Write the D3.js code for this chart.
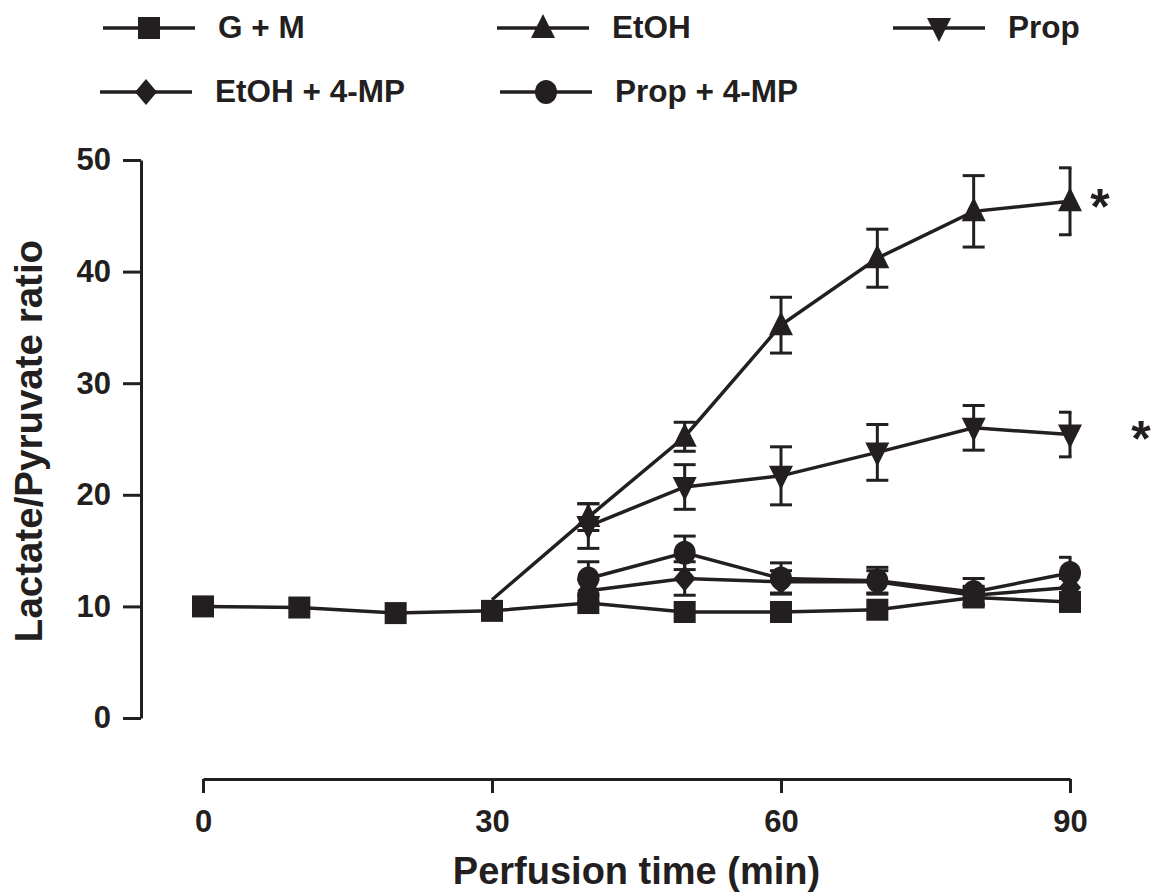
<!DOCTYPE html>
<html>
<head>
<meta charset="utf-8">
<script src="https://cdn.jsdelivr.net/npm/d3@7"></script>
<style>
  html, body { margin: 0; padding: 0; background: #fff; }
  svg { display: block; }
</style>
</head>
<body>
<div id="chart"></div>
<script>
// Perfusion time points (min)
const times = [0, 10, 20, 30, 40, 50, 60, 70, 80, 90];

// Lactate/Pyruvate ratio, mean and error (null = not measured)
const gmValues      = [10.0, 9.9, 9.4, 9.6, 10.3, 9.5, 9.5, 9.7, 10.8, 10.4];
const gmErrors      = [0.3, 0.3, 0.3, 0.3, 0.4, 0.3, 0.3, 0.3, 0.4, 0.4];
const etohValues    = [null, null, null, 10.6, 18.0, 25.2, 35.2, 41.2, 45.4, 46.3];
const etohErrors    = [null, null, null, null, 1.2, 1.3, 2.5, 2.6, 3.2, 3.0];
const propValues    = [null, null, null, null, 17.2, 20.7, 21.7, 23.8, 26.0, 25.4];
const propErrors    = [null, null, null, null, 2.0, 2.0, 2.6, 2.5, 2.0, 2.0];
const etoh4mpValues = [null, null, null, null, 11.4, 12.5, 12.2, 12.2, 11.0, 11.7];
const etoh4mpErrors = [null, null, null, null, 1.0, 1.5, 1.0, 1.0, 0.8, 0.8];
const prop4mpValues = [null, null, null, null, 12.5, 14.8, 12.5, 12.3, 11.3, 13.0];
const prop4mpErrors = [null, null, null, null, 1.5, 1.5, 1.4, 1.2, 1.2, 1.4];

const seriesNames = ['G + M', 'EtOH', 'Prop', 'EtOH + 4-MP', 'Prop + 4-MP'];
const yTicks = [0, 10, 20, 30, 40, 50];
const xTicks = [0, 30, 60, 90];
const significant = [{ series: 'EtOH', t: 90 }, { series: 'Prop', t: 90 }];

const series = [
  { name: 'G + M',       values: gmValues,      errors: gmErrors,      symbol: 'square' },
  { name: 'Prop + 4-MP', values: prop4mpValues, errors: prop4mpErrors, symbol: 'circle' },
  { name: 'EtOH + 4-MP', values: etoh4mpValues, errors: etoh4mpErrors, symbol: 'diamond' },
  { name: 'Prop',        values: propValues,    errors: propErrors,    symbol: 'down' },
  { name: 'EtOH',        values: etohValues,    errors: etohErrors,    symbol: 'up' }
];

const W = 1153, H = 896;
const INK = '#231f20';
const FONT = "'Liberation Sans', Arial, Helvetica, sans-serif";

const svg = d3.select('#chart').append('svg').attr('width', W).attr('height', H);

const x = d3.scaleLinear().domain([0, 90]).range([203, 1070]);
const y = d3.scaleLinear().domain([0, 50]).range([718, 160]);

// marker shapes, centred on 0,0
function marker(sel, symbol) {
  if (symbol === 'square') {
    sel.append('rect').attr('x', -11).attr('y', -11).attr('width', 22).attr('height', 22).attr('fill', INK);
  } else if (symbol === 'circle') {
    sel.append('ellipse').attr('rx', 11).attr('ry', 12).attr('fill', INK);
  } else if (symbol === 'diamond') {
    sel.append('path').attr('d', 'M0,-13L11,0L0,13L-11,0Z').attr('fill', INK);
  } else if (symbol === 'up') {
    sel.append('path').attr('d', 'M0,-14L12,10L-12,10Z').attr('fill', INK);
  } else if (symbol === 'down') {
    sel.append('path').attr('d', 'M0,14L12,-10L-12,-10Z').attr('fill', INK);
  }
}

// Y axis
const yAxis = svg.append('g').attr('transform', 'translate(141,0)')
  .call(d3.axisLeft(y).tickValues(yTicks).tickSize(18).tickSizeOuter(0).tickPadding(12));
yAxis.select('.domain').attr('stroke', INK).attr('stroke-width', 3);
yAxis.selectAll('.tick line').attr('stroke', INK).attr('stroke-width', 3);
yAxis.selectAll('.tick text').attr('fill', INK)
  .attr('font-family', FONT).attr('font-weight', 700).attr('font-size', 31);

// X axis (detached below the plot)
const xAxis = svg.append('g').attr('transform', 'translate(0,779)')
  .call(d3.axisBottom(x).tickValues(xTicks).tickSize(14).tickSizeOuter(0).tickPadding(17));
xAxis.select('.domain').attr('stroke', INK).attr('stroke-width', 3);
xAxis.selectAll('.tick line').attr('stroke', INK).attr('stroke-width', 3);
xAxis.selectAll('.tick text').attr('fill', INK)
  .attr('font-family', FONT).attr('font-weight', 700).attr('font-size', 31).attr('dy', '0.71em');

// axis titles
svg.append('text').attr('x', x(45)).attr('y', 884).attr('text-anchor', 'middle')
  .attr('font-family', FONT).attr('font-weight', 700).attr('font-size', 38).attr('fill', INK)
  .text('Perfusion time (min)');
svg.append('text').attr('transform', 'translate(42,441) rotate(-90)')
  .attr('text-anchor', 'middle')
  .attr('font-family', FONT).attr('font-weight', 700).attr('font-size', 38.5).attr('fill', INK)
  .text('Lactate/Pyruvate ratio');

const plot = svg.append('g');
const errG = plot.append('g');
const capRight = x(90) + 1.5;   // caps at the last time point are cut like "]"

series.forEach(s => {
  const pts = times.map((t, i) => ({ t, v: s.values[i], e: s.errors[i] })).filter(d => d.v != null);
  pts.filter(d => d.e != null && d.e > 0.5).forEach(d => {
    const g = errG.append('g').attr('stroke', INK).attr('stroke-width', 3);
    g.append('line').attr('x1', x(d.t)).attr('x2', x(d.t)).attr('y1', y(d.v - d.e)).attr('y2', y(d.v + d.e));
    [d.v - d.e, d.v + d.e].forEach(c => {
      g.append('line').attr('x1', x(d.t) - 11).attr('x2', Math.min(x(d.t) + 11, capRight))
        .attr('y1', y(c)).attr('y2', y(c));
    });
  });
});

series.forEach(s => {
  const pts = times.map((t, i) => ({ t, v: s.values[i], e: s.errors[i] })).filter(d => d.v != null);
  plot.append('path').datum(pts)
    .attr('d', d3.line().x(d => x(d.t)).y(d => y(d.v)))
    .attr('fill', 'none').attr('stroke', INK).attr('stroke-width', 3.5);
});

// markers (G + M drawn last so it sits on top)
series.slice().reverse().forEach(s => {
  times.forEach((t, i) => {
    if (s.values[i] == null || s.errors[i] == null) return;
    const g = plot.append('g').attr('transform', `translate(${x(t)},${y(s.values[i])})`);
    marker(g, s.symbol);
  });
});

// significance asterisks
const sigOffset = { 'EtOH': [30, 23], 'Prop': [71, 21] };
significant.forEach(d => {
  const s = series.find(k => k.name === d.series);
  const v = s.values[times.indexOf(d.t)];
  svg.append('text').attr('x', x(d.t) + sigOffset[d.series][0]).attr('y', y(v) + sigOffset[d.series][1])
    .attr('text-anchor', 'middle').attr('font-family', FONT).attr('font-weight', 700)
    .attr('font-size', 50).attr('fill', INK).text('*');
});

// legend
const legendPos = [
  { name: 'G + M',       lx: 103, ly: 28 },
  { name: 'EtOH',        lx: 497, ly: 28 },
  { name: 'Prop',        lx: 893, ly: 28 },
  { name: 'EtOH + 4-MP', lx: 100, ly: 92 },
  { name: 'Prop + 4-MP', lx: 500, ly: 92 }
];
legendPos.forEach(p => {
  const s = series.find(k => k.name === p.name);
  const g = svg.append('g').attr('transform', `translate(${p.lx},${p.ly})`);
  g.append('line').attr('x1', 0).attr('x2', 92).attr('stroke', INK).attr('stroke-width', 3.5);
  marker(g.append('g').attr('transform', 'translate(46,0)'), s.symbol);
  g.append('text').attr('x', 115).attr('y', 10)
    .attr('font-family', FONT).attr('font-weight', 700).attr('font-size', 31.5).attr('fill', INK)
    .text(s.name);
});
</script>
</body>
</html>
